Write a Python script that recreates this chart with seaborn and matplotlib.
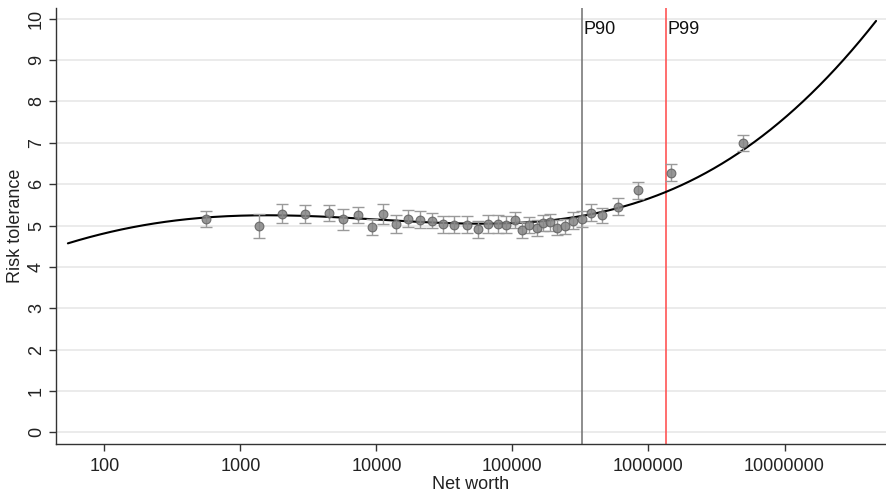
import numpy as np
import pandas as pd
import matplotlib
matplotlib.use("Agg")
import matplotlib.pyplot as plt
import seaborn as sns

# ---- data ----
net_worth = [560, 1370, 2010, 2990, 4490, 5720, 7300, 9250, 11250, 14000,
             17200, 21000, 25500, 31100, 37500, 46200, 56000, 66700, 78200, 90000,
             104000, 118500, 133400, 151000, 169000, 189000, 213000, 244000, 278000, 324000,
             379000, 459000, 594000, 834000, 1460000, 4940000]
risk_tol = [5.16, 4.99, 5.29, 5.28, 5.30, 5.15, 5.26, 4.97, 5.28, 5.04,
            5.17, 5.14, 5.12, 5.03, 5.02, 5.02, 4.91, 5.04, 5.04, 5.02,
            5.14, 4.90, 5.01, 4.95, 5.06, 5.08, 4.95, 4.98, 5.12, 5.16,
            5.31, 5.25, 5.46, 5.85, 6.28, 6.99]
ci_half = [0.19, 0.29, 0.23, 0.21, 0.20, 0.26, 0.19, 0.20, 0.23, 0.21,
           0.21, 0.21, 0.19, 0.21, 0.21, 0.20, 0.20, 0.21, 0.21, 0.21,
           0.20, 0.19, 0.20, 0.19, 0.19, 0.20, 0.18, 0.18, 0.20, 0.19,
           0.20, 0.18, 0.20, 0.21, 0.20, 0.19]

# fitted curve
curve_nw = [54, 105, 182, 316, 562, 1000, 2000, 4470, 10000, 25100,
            50100, 100000, 245000, 324000, 447000, 596000, 1400000, 2140000,
            3760000, 6610000, 11600000, 20400000, 26900000, 47100000]
curve_rt = [4.57, 4.82, 5.00, 5.12, 5.20, 5.24, 5.24, 5.20, 5.14, 5.08,
            5.06, 5.07, 5.16, 5.22, 5.33, 5.45, 5.84, 6.10,
            6.55, 7.11, 7.80, 8.59, 9.00, 9.93]

p90 = 326000
p99 = 1346000
pct_labels = ["P90", "P99"]

x_ticks = [100, 1000, 10000, 100000, 1000000, 10000000]
x_ticklabels = ["100", "1000", "10000", "100000", "1000000", "10000000"]
y_ticks = list(range(0, 11))

# ---- styling ----
sns.set_theme(style="white")
plt.rcParams["font.family"] = ["Liberation Sans", "DejaVu Sans"]

fig = plt.figure(figsize=(8.87, 4.93), dpi=100)
ax = fig.add_axes([56 / 887, 1 - 444 / 493, (886 - 56) / 887, (444 - 8) / 493])

ax.set_xscale("log")

# horizontal grid
for yv in y_ticks:
    ax.axhline(yv, color="#e6e6e6", lw=1.1, zorder=0)

# fitted curve (smooth polynomial through the read-off curve points)
lc = np.log10(curve_nw)
coef = np.polyfit(lc, curve_rt, 5)
grid = np.linspace(lc.min(), lc.max(), 300)
curve_df = pd.DataFrame({"nw": 10 ** grid, "rt": np.polyval(coef, grid)})
sns.lineplot(data=curve_df, x="nw", y="rt", color="black", lw=1.5, ax=ax, zorder=3)

# error bars and points
df = pd.DataFrame({"nw": net_worth, "rt": risk_tol, "ci": ci_half})
ax.errorbar(df["nw"], df["rt"], yerr=df["ci"], fmt="none", ecolor="#9a9a9a",
            elinewidth=1.0, capsize=4, capthick=1.0, zorder=4)
sns.scatterplot(data=df, x="nw", y="rt", s=40, color="#858585",
                edgecolor="#5e5e5e", linewidth=0.8, alpha=0.85, ax=ax, zorder=5)

# percentile lines
ax.axvline(p90, color="#7a7a7a", lw=1.2, zorder=2)
ax.axvline(p99, color="#ff5555", lw=1.2, zorder=2)
ax.text(p90 * 1.02, 9.75, pct_labels[0], fontsize=13, va="center", ha="left", color="#111111")
ax.text(p99 * 1.02, 9.75, pct_labels[1], fontsize=13, va="center", ha="left", color="#111111")

ax.set_xlim(10 ** 1.645, 10 ** 7.746)
ax.set_ylim(-0.28, 10.26)
ax.set_xticks(x_ticks)
ax.set_xticklabels(x_ticklabels)
ax.xaxis.set_minor_locator(matplotlib.ticker.NullLocator())
ax.set_yticks(y_ticks)
ax.set_yticklabels([str(v) for v in y_ticks], rotation=90, va="center")

ax.tick_params(axis="both", which="major", direction="out", length=5, width=1,
               color="#333333", labelsize=13, labelcolor="#222222", pad=5,
               bottom=True, left=True)
ax.tick_params(axis="y", pad=3)

for side in ["top", "right"]:
    ax.spines[side].set_visible(False)
for side in ["left", "bottom"]:
    ax.spines[side].set_color("#333333")
    ax.spines[side].set_linewidth(1.0)

ax.set_xlabel("Net worth", fontsize=13, color="#222222", labelpad=1)
ax.set_ylabel("Risk tolerance", fontsize=13, color="#222222")
ax.yaxis.set_label_coords(-0.039, 0.5)

fig.savefig("out.png", dpi=100)
